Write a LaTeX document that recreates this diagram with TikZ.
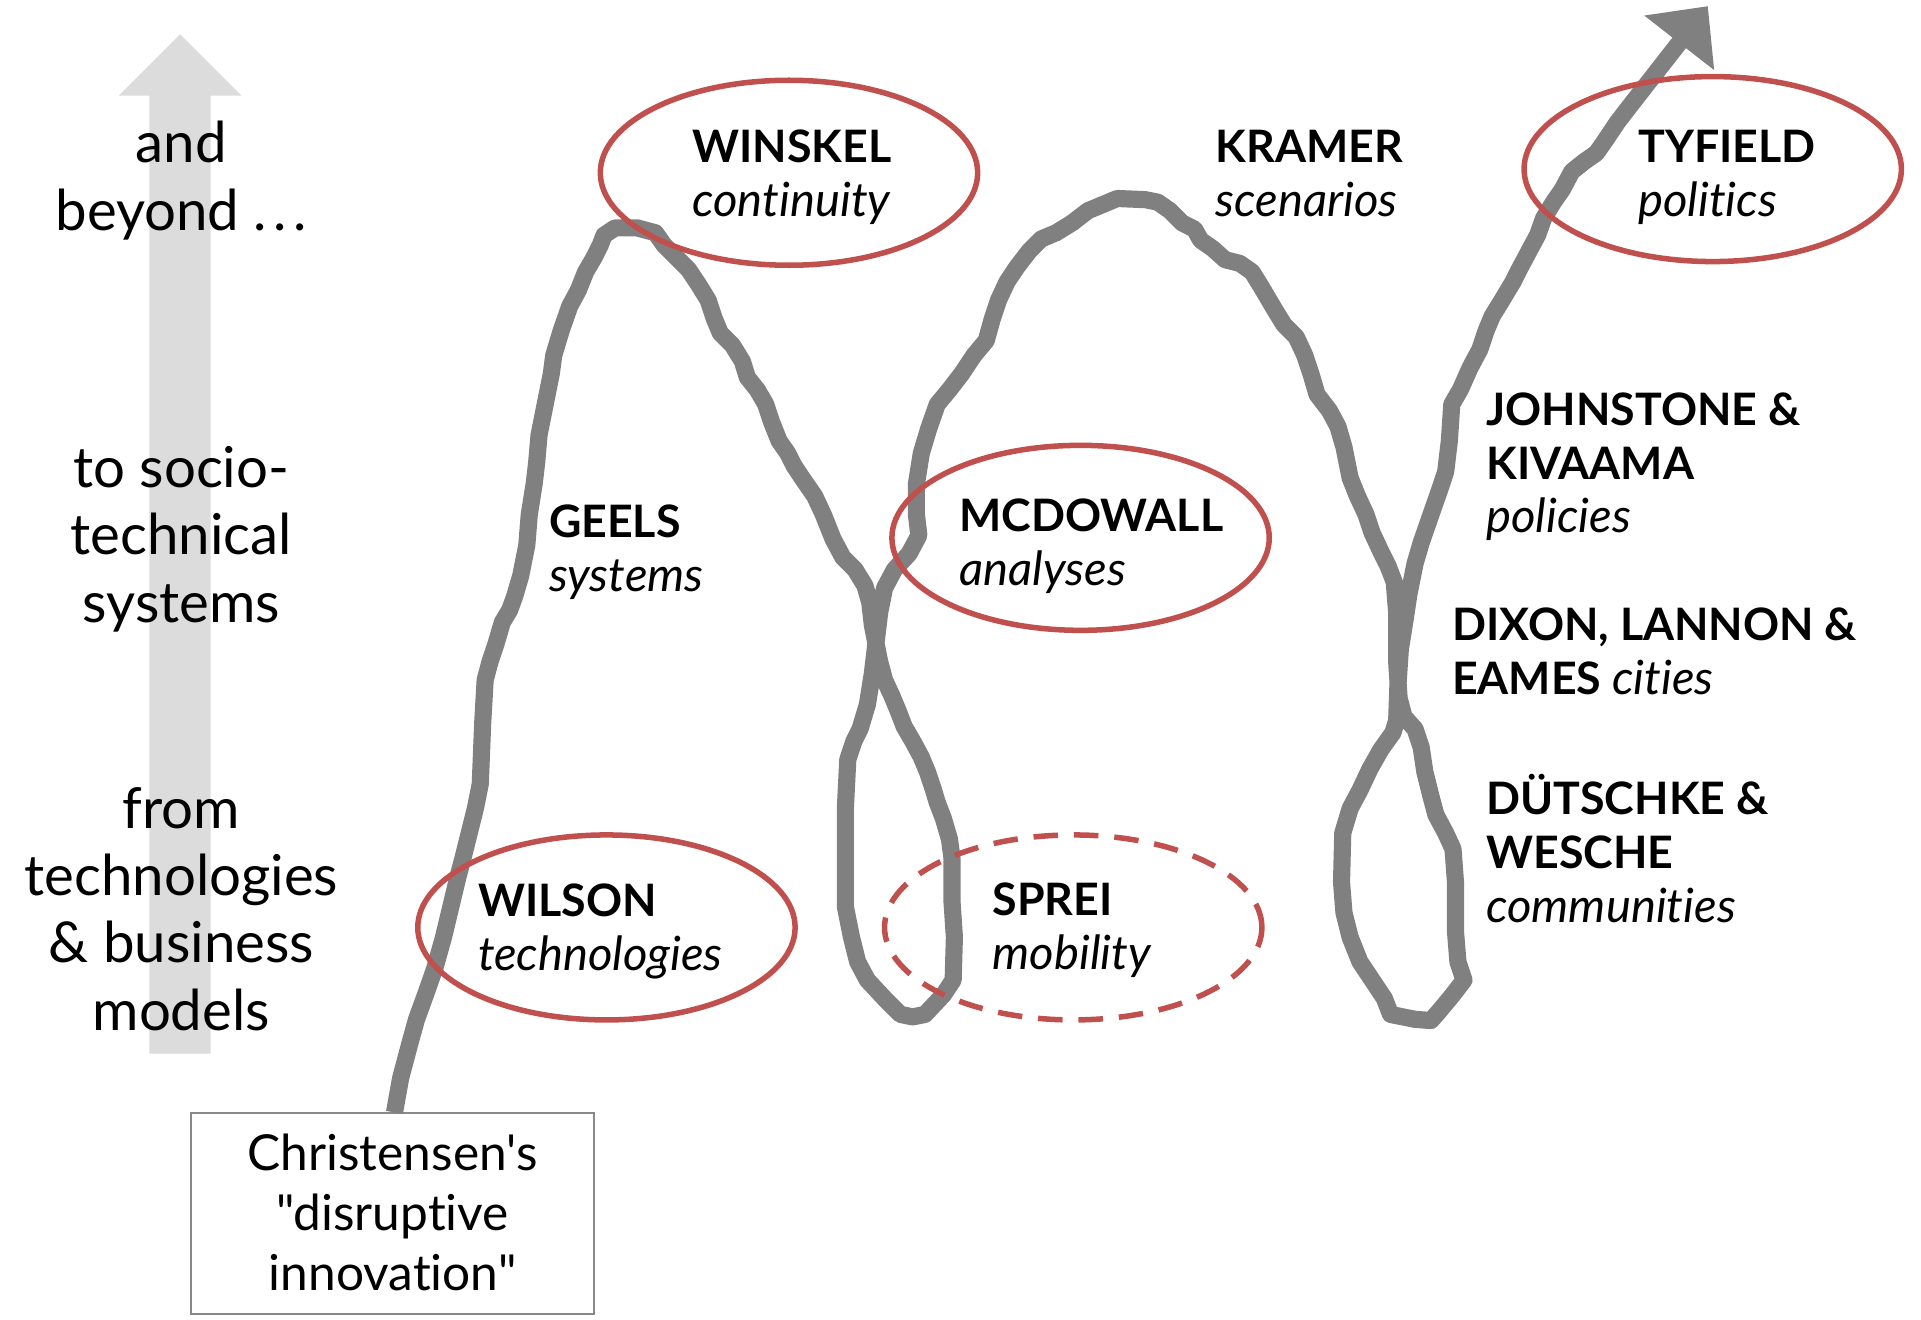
\documentclass[tikz,border=0pt]{standalone}
\usepackage{fontspec}
\setmainfont{Lato}[Ligatures={TeXOff,CommonOff}]
\usetikzlibrary{arrows.meta,shapes.geometric}
\definecolor{pathgray}{HTML}{808080}
\definecolor{lightbar}{HTML}{DCDCDC}
\definecolor{ringred}{HTML}{C0504D}
\definecolor{boxgray}{HTML}{888888}
\newcommand{\sidetext}[1]{\vtop{\fontsize{46}{55}\selectfont\baselineskip=55pt\lineskiplimit=-200pt #1}}
\newcommand{\cl}[1]{\hbox to 400pt{\hfil #1\hfil}}
\newcommand{\lbltext}[1]{\vtop{\baselineskip=44pt\lineskiplimit=-200pt #1}}
\newcommand{\bl}[1]{\hbox{\fontsize{36.5}{44}\selectfont\bfseries #1}}
\newcommand{\il}[1]{\hbox{\fontsize{38.5}{44}\selectfont\itshape #1}}
\begin{document}
\begin{tikzpicture}[x=1pt,y=-1pt,
  ring/.style={ellipse,draw=ringred,line width=4.5pt,minimum width=308pt,minimum height=151pt,inner sep=0pt},
  label/.style={anchor=base west,inner sep=0pt,text=black},
  side/.style={anchor=base,inner sep=0pt,text=black},
  squiggle/.style={draw=pathgray,line width=14pt,line join=round}]
\path[use as bounding box] (0,0) rectangle (1568,1077);
% light vertical arrow
\fill[lightbar] (122,860) -- (122,78) -- (97,78) -- (147,28) -- (197,78) -- (172,78) -- (172,860) -- cycle;
% side texts
\node[side] (beyond) at (148,133) {\sidetext{\cl{and}\cl{beyond \hbox{.\kern5.5pt.\kern5.5pt.}}}};
\node[side] (socio) at (148,398) {\sidetext{\cl{to socio-}\cl{technical}\cl{systems}}};
\node[side] (fromtech) at (148,676) {\sidetext{\cl{from}\cl{technologies}\cl{\& business}\cl{models}}};
% start box
\node[draw=boxgray,line width=1.5pt,minimum width=329pt,minimum height=164pt,inner sep=0pt,anchor=north] (box) at (320.5,908) {};
\node[anchor=base,inner sep=0pt] (boxtext) at (320.5,955) {\vtop{\fontsize{40.5}{49}\selectfont\baselineskip=49pt\lineskiplimit=-200pt
  \hbox to 320pt{\hfil Christensen's\hfil}\hbox to 320pt{\hfil "disruptive\hfil}\hbox to 320pt{\hfil innovation"\hfil}}};
\coordinate (tip) at (1394,5);
% the path
\draw[squiggle,-{Triangle[length=38pt,width=70pt]}] ([xshift=1.5pt]box.north) --
 (327,880) -- (335,850) -- (340,832) -- (348,810) -- (355,790) -- (362,765) -- (368,740) -- (374,715) -- (378,700) -- (383,680) -- (388,660) -- (392,640) -- (393,615) -- (394,590) -- (396,555) -- (400,540) -- (405,525) -- (410,508) -- (416,498) -- (420,487) -- (425,470) -- (430,445) -- (432,420) -- (436,395) -- (438,378) -- (440,355) -- (445,330) -- (450,305) -- (452,290) -- (458,270) -- (465,250) -- (472,237) -- (478,222) -- (485,210) -- (490,200) -- (493,192) -- (502,186) -- (520,186) -- (535,190) -- (542,200) -- (552,210) -- (562,220) -- (570,232) -- (578,245) -- (583,260) -- (588,272) -- (598,282) -- (606,295) -- (610,308) -- (618,318) -- (625,330) -- (630,345) -- (636,360) -- (643,370) -- (648,380) -- (656,392) -- (665,405) -- (672,420) -- (680,440) -- (688,455) -- (698,465) -- (706,478) -- (710,492) -- (712,510) -- (715,525) -- (718,540) -- (722,555) -- (728,568) -- (733,580) -- (738,593) -- (745,605) -- (752,618) -- (757,630) -- (762,645) -- (765,655) -- (770,668) -- (775,685) -- (777,700) -- (777,735) -- (779,765) -- (778,800) --
 (770,812) -- (755,828) -- (745,830) -- (735,828) -- (722,815) -- (708,800) -- (700,785) -- (695,765) -- (690,740) -- (690,700) -- (690,660) -- (692,620) -- (697,605) -- (702,595) -- (708,575) -- (712,550) -- (715,525) -- (718,500) -- (722,480) -- (730,465) -- (742,452) -- (750,437) --
 (748,420) -- (748,395) -- (752,370) -- (758,350) -- (765,330) -- (775,318) -- (785,305) -- (795,290) -- (805,278) -- (810,260) -- (815,245) -- (822,230) -- (830,218) -- (840,205) -- (850,195) -- (862,190) -- (875,182) -- (888,172) -- (900,167) -- (912,162) -- (935,163) -- (945,165) -- (955,172) -- (965,182) -- (975,187) -- (980,196) -- (990,203) -- (1000,212) -- (1012,215) -- (1022,222) -- (1030,235) -- (1040,252) -- (1048,265) -- (1058,275) -- (1065,290) -- (1070,305) -- (1075,322) -- (1085,335) -- (1092,348) -- (1097,365) -- (1102,390) -- (1108,405) -- (1115,420) -- (1120,435) -- (1127,450) -- (1133,462) -- (1138,475) -- (1140,500) -- (1140,540) -- (1142,570) -- (1146,585) -- (1155,595) -- (1160,610) -- (1163,630) -- (1168,650) -- (1172,665) -- (1180,680) -- (1186,693) -- (1188,720) -- (1188,760) -- (1190,785) -- (1195,800) --
 (1185,813) -- (1175,825) -- (1168,833) -- (1155,832) -- (1135,828) -- (1130,815) -- (1120,800) -- (1110,785) -- (1102,765) -- (1097,745) -- (1095,720) -- (1096,680) -- (1102,660) -- (1110,645) -- (1118,628) -- (1127,612) -- (1137,598) -- (1140,588) -- (1141,560) -- (1143,530) -- (1147,505) -- (1150,485) -- (1155,460) -- (1160,443) -- (1168,420) -- (1175,400) -- (1180,385) -- (1183,360) -- (1185,330) -- (1192,318) -- (1200,300) -- (1208,285) -- (1213,270) -- (1218,258) -- (1226,245) -- (1235,230) -- (1240,220) -- (1248,205) -- (1255,192) -- (1260,178) -- (1268,165) -- (1275,155) -- (1283,140) -- (1293,132) -- (1303,125) -- (1310,115) -- (1320,100) -- (1330,87) -- (tip);
% rings
\node[ring] (winskelE) at (644,141) {};
\node[ring] (tyfieldE) at (1398,138) {};
\node[ring] (mcdowallE) at (882,439) {};
\node[ring] (wilsonE) at (495,757) {};
\node[ring,dash pattern=on 20pt off 13pt] (spreiE) at (876,757) {};
% labels
\node[label] (winskel) at (565,133) {\lbltext{\bl{WINSKEL}\il{continuity}}};
\node[label] (kramer) at (992,133) {\lbltext{\bl{KRAMER}\il{scenarios}}};
\node[label] (tyfield) at (1337,133) {\lbltext{\bl{TYFIELD}\il{politics}}};
\node[label] (geels) at (448,439) {\lbltext{\bl{GEELS}\il{systems}}};
\node[label] (mcdowall) at (783,434) {\lbltext{\bl{MCDOWALL}\il{analyses}}};
\node[label] (johnstone) at (1213,347) {\lbltext{\bl{JOHNSTONE \&}\bl{KIVAAMA}\il{policies}}};
\node[label] (dixon) at (1185,523) {\lbltext{\bl{DIXON, LANNON \&}\hbox{\fontsize{36.5}{44}\selectfont\bfseries EAMES \fontsize{38.5}{44}\selectfont\mdseries\itshape cities}}};
\node[label] (dutschke) at (1213,665) {\lbltext{\bl{DÜTSCHKE \&}\bl{WESCHE}\il{communities}}};
\node[label] (wilson) at (390,748) {\lbltext{\bl{WILSON}\il{technologies}}};
\node[label] (sprei) at (810,747) {\lbltext{\bl{SPREI}\il{mobility}}};
\end{tikzpicture}
\end{document}
